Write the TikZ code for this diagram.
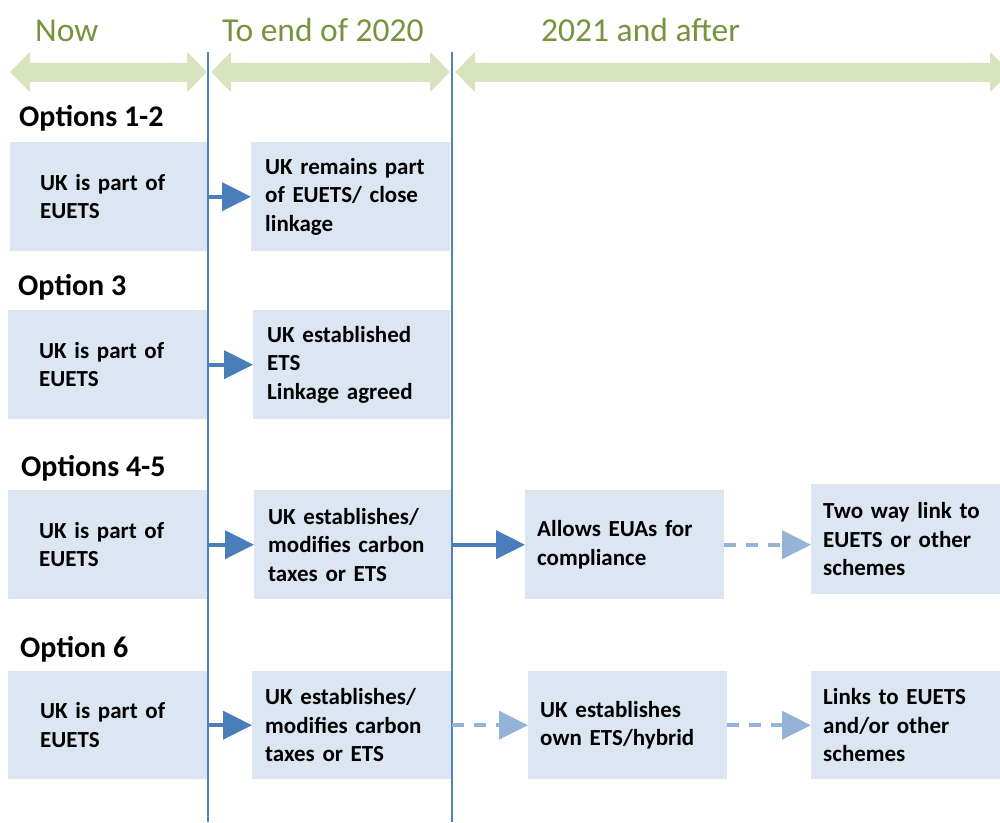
\documentclass[tikz,border=0pt]{standalone}
\usepackage{fontspec}
\setmainfont{Carlito}
\usetikzlibrary{arrows.meta}

\definecolor{headgreen}{HTML}{77933C}
\definecolor{bandgreen}{HTML}{D7E4BD}
\definecolor{boxblue}{HTML}{DCE6F2}
\definecolor{arrowblue}{HTML}{4A7EBB}
\definecolor{dashblue}{HTML}{95B3D7}
\definecolor{lineblue}{HTML}{4F81BD}

\newcommand{\boxfont}{\fontsize{23}{28.5}\selectfont\bfseries}

\tikzset{
  head/.style={anchor=base west, inner sep=0pt, text=headgreen, font=\fontsize{33.5}{40}\selectfont},
  optlabel/.style={anchor=base west, inner sep=0pt, font=\fontsize{30}{36}\selectfont\bfseries},
  band/.style={bandgreen, line width=19pt, {Triangle[length=20pt,width=39pt]}-{Triangle[length=20pt,width=39pt]}},
  box/.style={fill=boxblue, anchor=north west, minimum height=109pt, inner ysep=0pt, align=left, font=\boxfont},
  solidarrow/.style={arrowblue, line width=4pt, -{Triangle[length=29pt,width=28pt]}},
  dasharrow/.style={dashblue, line width=4pt, dash pattern=on 12pt off 10pt, -{Triangle[length=29pt,width=28pt]}},
  divider/.style={draw=lineblue, line width=1.2pt}
}

\begin{document}
\begin{tikzpicture}[x=1pt,y=-1pt]
\useasboundingbox (0,0) rectangle (1000,822);
\clip (0,0) rectangle (1000,822);

% timeline
\node[head] (now) at (35,41) {Now};
\node[head] (to2020) at (222,41) {To end of 2020};
\node[head] (after) at (541,41) {2021 and after};
\draw[band] (10,72) -- (207,72);
\draw[band] (211,72) -- (450,72);
\draw[band] (455,72) -- (1010,72);

% options 1-2
\node[optlabel] (O1) at (19,126) {Options 1-2};
\node[box, minimum width=198pt, text width=138pt, inner xsep=30pt] (A1) at (10,142) {UK is part of\\EUETS};
\node[box, minimum width=199pt, text width=171pt, inner xsep=14pt] (B1) at (251,142) {UK remains part\\of EUETS/ close\\linkage};

% option 3
\node[optlabel] (O3) at (18,295) {Option 3};
\node[box, minimum width=200pt, text width=138pt, inner xsep=31pt] (A2) at (8,310) {UK is part of\\EUETS};
\node[box, minimum width=197pt, text width=169pt, inner xsep=14pt] (B2) at (253,310) {UK established\\ETS\\Linkage agreed};

% options 4-5
\node[optlabel] (O45) at (21,476) {Options 4-5};
\node[box, minimum width=200pt, text width=138pt, inner xsep=31pt] (A3) at (8,490) {UK is part of\\EUETS};
\node[box, minimum width=198pt, text width=170pt, inner xsep=14pt] (B3) at (254,490) {UK establishes/\\modifies carbon\\taxes or ETS};
\node[box, minimum width=199pt, text width=175pt, inner xsep=12pt] (C3) at (525,490) {Allows EUAs for\\compliance};
\node[box, minimum width=199pt, minimum height=110pt, text width=175pt, inner xsep=12pt] (D3) at (811,484) {Two way link to\\EUETS or other\\schemes};

% option 6
\node[optlabel] (O6) at (20,657) {Option 6};
\node[box, minimum width=199pt, minimum height=108pt, text width=135pt, inner xsep=32pt] (A4) at (8,671) {UK is part of\\EUETS};
\node[box, minimum width=200pt, minimum height=108pt, text width=174pt, inner xsep=13pt] (B4) at (252,671) {UK establishes/\\modifies carbon\\taxes or ETS};
\node[box, minimum width=199pt, minimum height=108pt, text width=175pt, inner xsep=12pt] (C4) at (528,671) {UK establishes\\own ETS/hybrid};
\node[box, minimum width=199pt, minimum height=108pt, text width=175pt, inner xsep=12pt] (D4) at (811,671) {Links to EUETS\\and/or other\\schemes};

% period dividers
\draw[divider] (208,52) -- (208,822);
\draw[divider] (452,52) -- (452,822);

\path[solidarrow] (A1) edge (B1);
\path[solidarrow] (A2) edge (B2);
\path[solidarrow] (A3) edge (B3);
\path[solidarrow] (B3) edge (C3);
\path[dasharrow] (C3) edge (C3.east -| D3.west);
\path[solidarrow] (A4) edge (B4);
\path[dasharrow] (B4) edge (C4);
\path[dasharrow] (C4) edge (D4);
\end{tikzpicture}
\end{document}
